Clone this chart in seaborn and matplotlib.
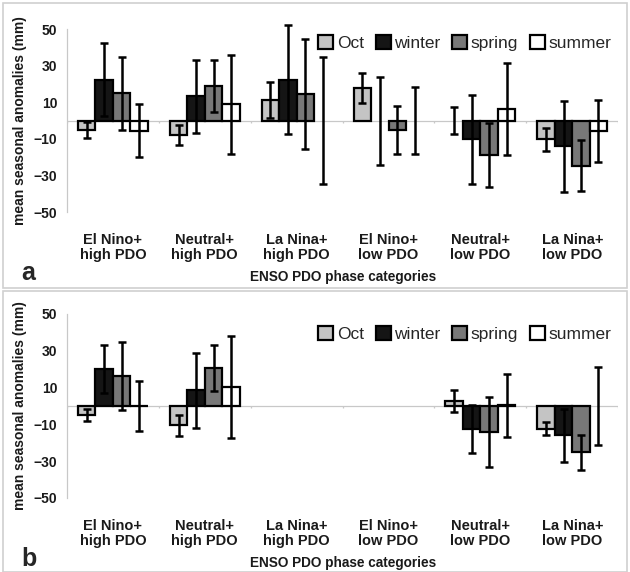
import numpy as np
import pandas as pd
import matplotlib
matplotlib.use("Agg")
import matplotlib.pyplot as plt
from matplotlib.patches import Rectangle
import seaborn as sns

# categories and seasons
categories = ["El Nino+\nhigh PDO", "Neutral+\nhigh PDO", "La Nina+\nhigh PDO",
              "El Nino+\nlow PDO", "Neutral+\nlow PDO", "La Nina+\nlow PDO"]
seasons = ["Oct", "winter", "spring", "summer"]

# panel a: mean anomalies (nan = no visible bar, error bar centred on 0)
a_oct = [-5, -7.8, 11.5, 17.7, np.nan, -10.2]
a_winter = [22.5, 13.4, 22.5, np.nan, -10.2, -13.9]
a_spring = [15, 19.2, 14.6, -5, -18.6, -24.5]
a_summer = [-5.5, 9, np.nan, np.nan, 6.3, -5.5]
a_oct_err = [4.5, 5.5, 9.8, 8.2, 7.5, 6.2]
a_winter_err = [20, 20, 30, 24, 24.2, 24.8]
a_spring_err = [20, 14.2, 30, 13.2, 17.6, 14]
a_summer_err = [14.6, 27, 34.7, 18.3, 25, 17]

# panel b: no data for La Nina+high PDO and El Nino+low PDO
b_oct = [-4.8, -10.5, np.nan, np.nan, 2.7, -12.3]
b_winter = [20, 8.5, np.nan, np.nan, -12.5, -16]
b_spring = [16.5, 20.5, np.nan, np.nan, -14, -25.2]
b_summer = [0, 10.3, np.nan, np.nan, 0.3, np.nan]
b_oct_err = [3.4, 5.6, np.nan, np.nan, 6, 3.6]
b_winter_err = [13, 20.4, np.nan, np.nan, 12.8, 14.5]
b_spring_err = [18.5, 12.5, np.nan, np.nan, 19, 9.5]
b_summer_err = [13.5, 27.8, np.nan, np.nan, 17.3, 21.3]

palette = {"Oct": "#c4c4c4", "winter": "#151515", "spring": "#787878", "summer": "white"}

sns.set_style("white")
plt.rcParams["font.family"] = ["Liberation Sans", "DejaVu Sans"]


def make_df(means, errs):
    rows = []
    for s, m, e in zip(seasons, means, errs):
        for c, mv, ev in zip(categories, m, e):
            rows.append({"category": c, "season": s, "mean": mv, "err": ev})
    return pd.DataFrame(rows)


def draw_panel(ax, df, letter, leg_y):
    width = 0.76
    sns.barplot(data=df, x="category", y="mean", hue="season", order=categories,
                hue_order=seasons, palette=palette, edgecolor="black", linewidth=1.6,
                errorbar=None, width=width, ax=ax, saturation=1)
    # error bars at the dodged bar centres
    nh = len(seasons)
    for j, s in enumerate(seasons):
        sub = df[df["season"] == s].set_index("category").loc[categories]
        x = np.arange(len(categories)) + (j - (nh - 1) / 2) * width / nh
        y = np.nan_to_num(sub["mean"].values, nan=0.0)
        ax.errorbar(x, y, yerr=sub["err"].values, fmt="none", ecolor="black",
                    elinewidth=1.8, capsize=3, capthick=1.8, clip_on=False, zorder=5)

    ax.axhline(0, color="#c8c8c8", lw=0.9, zorder=0)
    ax.vlines(np.arange(len(categories) + 1) - 0.5, -1.2, 0, color="#c8c8c8", lw=0.9, zorder=0)
    ax.set_xlim(-0.5, len(categories) - 0.5)
    ax.set_ylim(-50, 50)
    ax.set_yticks([-50, -30, -10, 10, 30, 50])
    for side in ["top", "right", "bottom"]:
        ax.spines[side].set_visible(False)
    ax.spines["left"].set_color("#c8c8c8")
    ax.spines["left"].set_linewidth(0.9)
    ax.tick_params(axis="y", length=3, color="#c8c8c8", labelsize=10, pad=4)
    ax.tick_params(axis="x", length=0, labelsize=10.5, pad=15)
    for t in ax.get_xticklabels():
        t.set_fontweight("bold")
        t.set_linespacing(1.1)
        t.set_color("#1a1a1a")
    for t in ax.get_yticklabels():
        t.set_fontweight("bold")
        t.set_color("#1a1a1a")
    ax.set_xlabel("ENSO PDO phase categories", fontsize=9.8, fontweight="bold", labelpad=6,
                  color="#1a1a1a")
    ax.set_ylabel("mean seasonal anomalies (mm)", fontsize=10, fontweight="bold", labelpad=5,
                  color="#1a1a1a")

    handles, labels = ax.get_legend_handles_labels()
    ax.legend(handles, labels, loc="upper right", bbox_to_anchor=(1.0, leg_y), ncol=4,
              frameon=False, fontsize=12.5, handlelength=0.85, handleheight=0.85,
              handletextpad=0.2, columnspacing=0.7, borderaxespad=0)
    ax.text(-0.083, -0.37, letter, transform=ax.transAxes, fontsize=18, fontweight="bold")


fig = plt.figure(figsize=(6.3, 5.72), dpi=100)
ax_a = fig.add_axes([0.1063, 0.629, 0.875, 0.32])
ax_b = fig.add_axes([0.1063, 0.1294, 0.875, 0.3217])

draw_panel(ax_a, make_df([a_oct, a_winter, a_spring, a_summer],
                         [a_oct_err, a_winter_err, a_spring_err, a_summer_err]), "a", 1.005)
draw_panel(ax_b, make_df([b_oct, b_winter, b_spring, b_summer],
                         [b_oct_err, b_winter_err, b_spring_err, b_summer_err]), "b", 0.97)

# light grey frames around each panel
for y0, h in [(0.497, 0.498), (0.0, 0.492)]:
    fig.patches.append(Rectangle((0.005, y0), 0.99, h, transform=fig.transFigure,
                                 fill=False, edgecolor="#d0d0d0", lw=1.2))

fig.savefig("out.png", dpi=100)
